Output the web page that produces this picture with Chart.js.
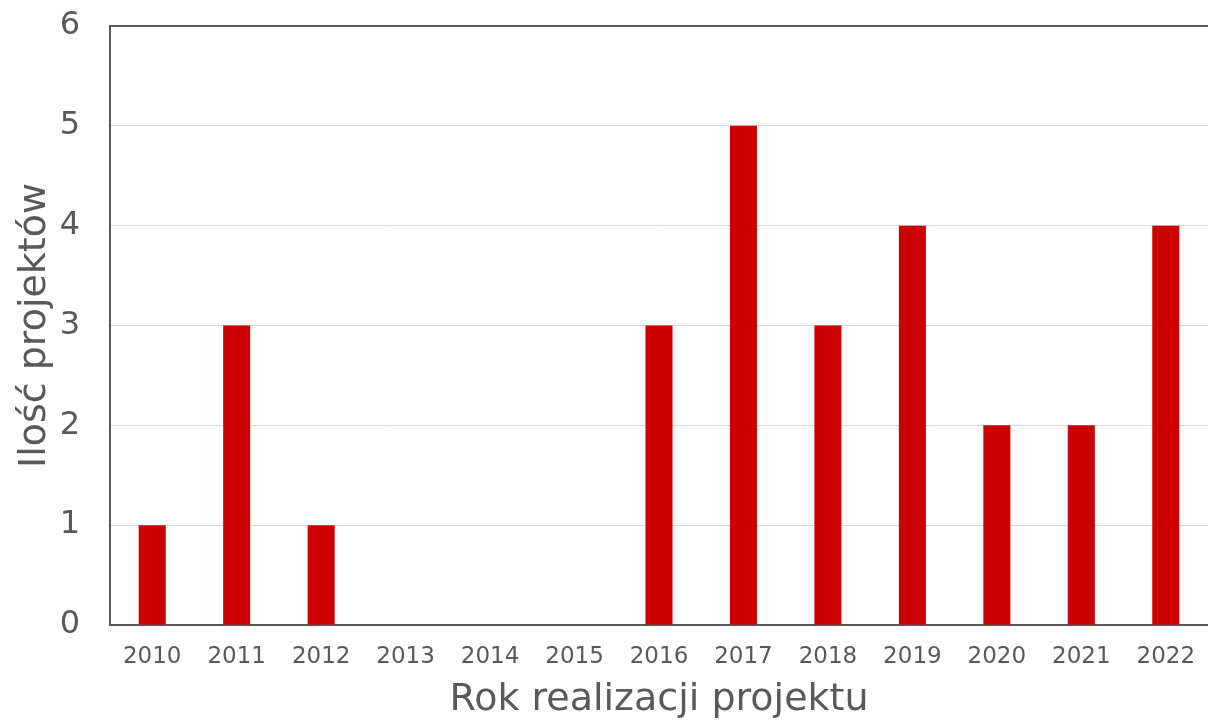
<!DOCTYPE html>
<html>
<head>
<meta charset="utf-8">
<script src="https://cdn.jsdelivr.net/npm/chart.js@4"></script>
<style>
  html, body { margin: 0; padding: 0; background: #fff; }
  #wrap { width: 1208px; height: 723px; }
</style>
</head>
<body>
<div id="wrap"><canvas id="projChart"></canvas></div>
<script>
const years = ['2010', '2011', '2012', '2013', '2014', '2015', '2016', '2017', '2018', '2019', '2020', '2021', '2022'];
const projectCounts = [1, 3, 1, 0, 0, 0, 3, 5, 3, 4, 2, 2, 4];

const ctx = document.getElementById('projChart').getContext('2d');
new Chart(ctx, {
  type: 'bar',
  data: {
    labels: years,
    datasets: [{
      label: 'Ilość projektów',
      data: projectCounts,
      backgroundColor: '#cc0000',
      barPercentage: 0.32,
      categoryPercentage: 1
    }]
  },
  options: {
    responsive: true,
    maintainAspectRatio: false,
    animation: false,
    layout: { padding: { top: 26, right: 0, left: 5, bottom: 0 } },
    plugins: { legend: { display: false }, tooltip: { enabled: false } },
    scales: {
      x: {
        grid: { display: false, drawTicks: false },
        border: { color: '#595959', width: 2 },
        ticks: { color: '#595959', font: { family: 'DejaVu Sans', size: 23 }, padding: 18, maxRotation: 0 },
        title: { display: true, text: 'Rok realizacji projektu', color: '#595959', font: { family: 'DejaVu Sans', size: 38 }, padding: { top: 4, bottom: 0 } },
        afterFit: (scale) => {
          scale.height = 98;
          scale.paddingLeft = 0;
          scale.paddingRight = 0;
        }
      },
      y: {
        min: 0,
        max: 6,
        grid: {
          drawTicks: false,
          color: (c) => c.tick && c.tick.value === 6 ? '#595959' : '#d9d9d9',
          lineWidth: (c) => c.tick && c.tick.value === 6 ? 2 : 1
        },
        border: { color: '#595959', width: 2 },
        ticks: { stepSize: 1, color: '#595959', font: { family: 'DejaVu Sans', size: 32 }, padding: 30 },
        title: { display: true, text: 'Ilość projektów', color: '#595959', font: { family: 'DejaVu Sans', size: 38 }, padding: { top: 7, bottom: 3 } },
        afterFit: (scale) => {
          scale.width = 105;
          scale.paddingTop = 0;
          scale.paddingBottom = 0;
        }
      }
    }
  }
});
</script>
</body>
</html>
